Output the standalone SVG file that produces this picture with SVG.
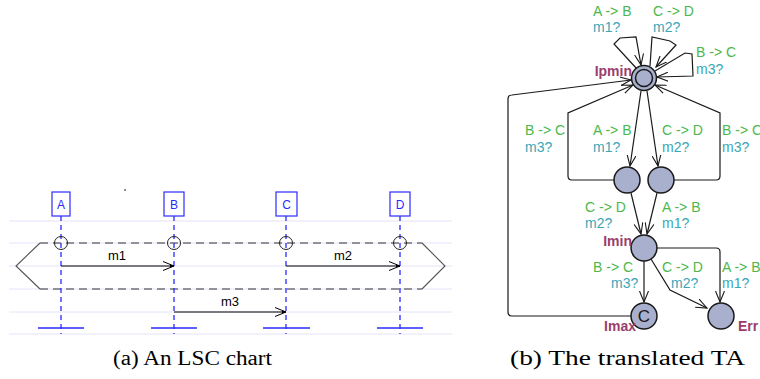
<svg xmlns="http://www.w3.org/2000/svg" width="760" height="379" viewBox="0 0 760 379">
<defs>
<style>
.grid{stroke:#e4e4fb;stroke-width:1}
.life{stroke:#2a2aff;stroke-width:1.3;stroke-dasharray:5,4}
.lbox{fill:#fff;stroke:#2a2aff;stroke-width:1.2}
.ltxt{font-family:"Liberation Sans",Arial,sans-serif;font-size:12px;fill:#2a2aff;text-anchor:middle}
.bar{stroke:#2a2aff;stroke-width:1.3}
.msg{stroke:#000;stroke-width:1;fill:none}
.mtxt{font-family:"Liberation Sans",Arial,sans-serif;font-size:13px;fill:#000;text-anchor:middle}
.hexd{stroke:#333;stroke-width:1.2;stroke-dasharray:8,5;fill:none}
.hexs{stroke:#555;stroke-width:1.1;fill:none}
.tick{stroke:#222;stroke-width:1;fill:none}
.node{fill:#a8b0cd;stroke:#1a1a1a;stroke-width:1.5}
.edge{stroke:#1a1a1a;stroke-width:1.2;fill:none}
.g{font-family:"Liberation Sans",Arial,sans-serif;font-size:14px;fill:#4cb84c}
.s{font-family:"Liberation Sans",Arial,sans-serif;font-size:14px;fill:#3aa6b6}
.loc{font-family:"Liberation Sans",Arial,sans-serif;font-size:14px;font-weight:bold;fill:#9a3d6c}
.cap{font-family:"Liberation Serif","Times New Roman",serif;font-size:20px;fill:#000}
</style>
<marker id="ma" viewBox="0 0 12 10" refX="11" refY="5" markerWidth="12" markerHeight="10" markerUnits="userSpaceOnUse" orient="auto">
<path d="M0,0.5 L11,5 L0,9.5" fill="none" stroke="#000" stroke-width="1"/>
<path d="M7,3.5 L11,5 L7,6.5 Z" fill="#000"/>
</marker>
<marker id="ta" viewBox="0 0 12 10" refX="11" refY="5" markerWidth="12" markerHeight="10" markerUnits="userSpaceOnUse" orient="auto">
<path d="M0,0.5 L11,5 L0,9.5" fill="none" stroke="#1a1a1a" stroke-width="1.1"/>
</marker>
</defs>
<rect width="760" height="379" fill="#fff"/>

<!-- (a) LSC chart -->
<g id="lsc-grid">
<line class="grid" x1="9" y1="221" x2="452" y2="221"/>
<line class="grid" x1="9" y1="243" x2="452" y2="243"/>
<line class="grid" x1="9" y1="266" x2="452" y2="266"/>
<line class="grid" x1="9" y1="289" x2="452" y2="289"/>
<line class="grid" x1="9" y1="312" x2="452" y2="312"/>
<line class="grid" x1="9" y1="334" x2="452" y2="334"/>
</g>
<circle cx="125" cy="190" r="0.8" fill="#000"/>
<g id="chart-frame">
<path class="hexd" d="M40,243 H422 M40,289 H422"/>
<path class="hexs" d="M40,243 L16,266 L40,289 M422,243 L445,266 L422,289"/>
</g>
<g id="lifeline-A">
<line class="life" x1="61" y1="216" x2="61" y2="334"/>
<rect class="lbox" x="52" y="192" width="18" height="24"/>
<text class="ltxt" x="61" y="208.5">A</text>
<circle class="tick" cx="61" cy="243" r="6.5"/>
<line class="bar" x1="38" y1="328" x2="84" y2="328"/>
</g>
<g id="lifeline-B">
<line class="life" x1="174" y1="216" x2="174" y2="334"/>
<rect class="lbox" x="164" y="192" width="20" height="24"/>
<text class="ltxt" x="174" y="208.5">B</text>
<circle class="tick" cx="174" cy="243" r="6.5"/>
<line class="bar" x1="151" y1="328" x2="197" y2="328"/>
</g>
<g id="lifeline-C">
<line class="life" x1="286" y1="216" x2="286" y2="334"/>
<rect class="lbox" x="276" y="192" width="21" height="24"/>
<text class="ltxt" x="286.5" y="208.5">C</text>
<circle class="tick" cx="286" cy="243" r="6.5"/>
<line class="bar" x1="263" y1="328" x2="310" y2="328"/>
</g>
<g id="lifeline-D">
<line class="life" x1="400" y1="216" x2="400" y2="334"/>
<rect class="lbox" x="390" y="192" width="20" height="24"/>
<text class="ltxt" x="400" y="208.5">D</text>
<circle class="tick" cx="400" cy="243" r="6.5"/>
<line class="bar" x1="377" y1="328" x2="423" y2="328"/>
</g>
<g id="messages">
<line class="msg" x1="61" y1="266" x2="174" y2="266" marker-end="url(#ma)"/>
<text class="mtxt" x="117" y="260">m1</text>
<line class="msg" x1="286" y1="266" x2="400" y2="266" marker-end="url(#ma)"/>
<text class="mtxt" x="343" y="260">m2</text>
<line class="msg" x1="174" y1="312" x2="286" y2="312" marker-end="url(#ma)"/>
<text class="mtxt" x="230" y="306">m3</text>
</g>
<text class="cap" x="113" y="365" textLength="159" lengthAdjust="spacingAndGlyphs">(a) An LSC chart</text>

<!-- (b) translated TA -->
<g id="ta-edges">
<!-- self loops on Ipmin -->
<path class="edge" d="M637,69 L614,44 L620,38 L636,37 L641,65" marker-end="url(#ta)"/>
<path class="edge" d="M650,66 L652,37 L670,41 L676,45 L656,67" marker-end="url(#ta)"/>
<path class="edge" d="M655,71 L685,53 L692,54 L693,76 L657,77" marker-end="url(#ta)"/>
<!-- back edges to Ipmin -->
<path class="edge" d="M631,316 L512,316 Q508,316 508,312 L508,99 Q508,95 512,95 L631,80" marker-end="url(#ta)"/>
<path class="edge" d="M614,180 L572,180 Q568,180 568,176 L568,113 L633,85" marker-end="url(#ta)"/>
<path class="edge" d="M674,180 L716,180 Q720,180 720,176 L720,113 L655,85" marker-end="url(#ta)"/>
<!-- Ipmin to middle nodes -->
<line class="edge" x1="641" y1="91" x2="630" y2="166" marker-end="url(#ta)"/>
<line class="edge" x1="647" y1="91" x2="658" y2="166" marker-end="url(#ta)"/>
<!-- middle nodes to Imin -->
<line class="edge" x1="631" y1="193" x2="641" y2="234" marker-end="url(#ta)"/>
<line class="edge" x1="657" y1="193" x2="647" y2="234" marker-end="url(#ta)"/>
<!-- Imin outgoing -->
<line class="edge" x1="644" y1="261" x2="644" y2="302" marker-end="url(#ta)"/>
<path class="edge" d="M651,259 L670,290 L707,308" marker-end="url(#ta)"/>
<path class="edge" d="M657,248 L716,248 Q720,248 720,252 L720,302" marker-end="url(#ta)"/>
</g>
<g id="Ipmin">
<circle class="node" cx="644" cy="78" r="12.5"/>
<circle class="node" cx="644" cy="78" r="8.5"/>
<text class="loc" x="632" y="76" text-anchor="end">Ipmin</text>
</g>
<g id="mid-left">
<circle class="node" cx="627" cy="180" r="13"/>
</g>
<g id="mid-right">
<circle class="node" cx="661" cy="180" r="13"/>
</g>
<g id="Imin">
<circle class="node" cx="644" cy="248" r="13"/>
<text class="loc" x="632" y="246" text-anchor="end">Imin</text>
</g>
<g id="Imax">
<circle class="node" cx="644" cy="316" r="13"/>
<text x="644" y="322" text-anchor="middle" font-family="Liberation Sans,Arial,sans-serif" font-size="17" fill="#1a1a1a">C</text>
<text class="loc" x="636" y="331" text-anchor="end">Imax</text>
</g>
<g id="Err">
<circle class="node" cx="721" cy="316" r="13"/>
<text class="loc" x="738" y="331">Err</text>
</g>
<g id="ta-labels">
<text class="g" x="593" y="16">A -&gt; B</text><text class="s" x="593" y="32">m1?</text>
<text class="g" x="653" y="16">C -&gt; D</text><text class="s" x="653" y="32">m2?</text>
<text class="g" x="696" y="57">B -&gt; C</text><text class="s" x="696" y="74">m3?</text>
<text class="g" x="525" y="135">B -&gt; C</text><text class="s" x="525" y="152">m3?</text>
<text class="g" x="593" y="135">A -&gt; B</text><text class="s" x="593" y="152">m1?</text>
<text class="g" x="662" y="135">C -&gt; D</text><text class="s" x="662" y="152">m2?</text>
<text class="g" x="722" y="135">B -&gt; C</text><text class="s" x="722" y="152">m3?</text>
<text class="g" x="585" y="212">C -&gt; D</text><text class="s" x="585" y="228">m2?</text>
<text class="g" x="662" y="212">A -&gt; B</text><text class="s" x="662" y="228">m1?</text>
<text class="g" x="593" y="272">B -&gt; C</text><text class="s" x="611" y="288">m3?</text>
<text class="g" x="662" y="272">C -&gt; D</text><text class="s" x="671" y="288">m2?</text>
<text class="g" x="722" y="272">A -&gt; B</text><text class="s" x="722" y="288">m1?</text>
</g>
<text class="cap" x="510" y="365" textLength="235" lengthAdjust="spacingAndGlyphs">(b) The translated TA</text>
</svg>
